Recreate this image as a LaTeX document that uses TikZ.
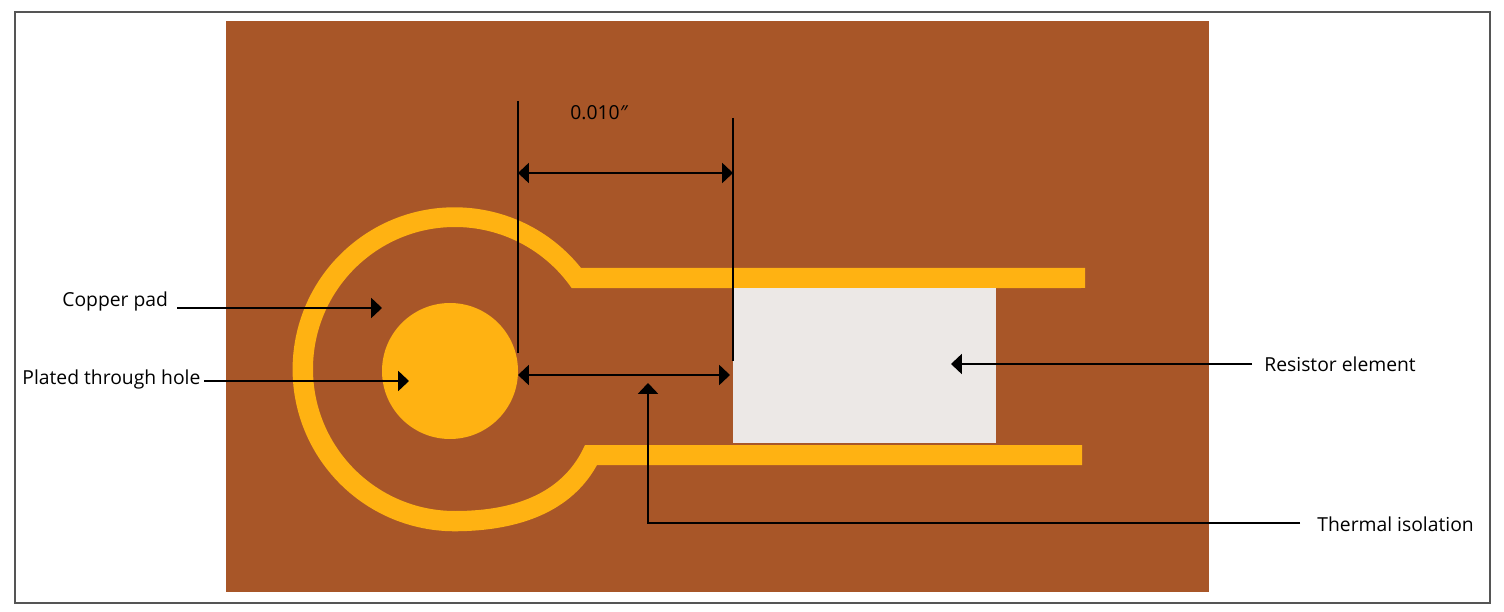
\documentclass[tikz,border=0pt]{standalone}
\usepackage{fontspec}
\setmainfont{Open Sans}
\usetikzlibrary{arrows.meta}
\definecolor{board}{HTML}{A85628}
\definecolor{gold}{HTML}{FFB212}
\definecolor{resist}{HTML}{ECE8E6}
\definecolor{frame}{HTML}{555555}
\tikzset{
  lead/.style={draw=black,line width=.8pt,-{Triangle[length=5.4pt,width=10pt]}},
  dimen/.style={draw=black,line width=.8pt,{Triangle[length=5.4pt,width=10pt]}-{Triangle[length=5.4pt,width=10pt]}},
  extline/.style={draw=black,line width=.8pt},
  lab/.style={inner sep=0pt,anchor=west,font=\fontsize{9.65}{12}\selectfont}
}
\begin{document}
\begin{tikzpicture}[x=.5pt,y=.5pt]
\useasboundingbox (0,0) rectangle (1504,611);
\fill[white] (0,0) rectangle (1504,611);
\draw[frame,line width=.6pt] (15,8) rectangle (1490,599);
\fill[board] (226,19) rectangle (1209,590);
% copper ring and traces
\fill[gold] (1085,343) -- (581,343) arc[start angle=38.7,end angle=270,radius=162]
  .. controls (530,80) and (575,106) .. (597,146) -- (1082,146) -- (1082,166) -- (585,166)
  .. controls (565,121) and (520,100) .. (455,100)
  arc[start angle=270,end angle=34.7,radius=142] -- (1085,323) -- cycle;
\fill[gold] (450,240) circle[radius=68];
\fill[resist] (733,168) rectangle (996,323);
% labels
\node[lab] (pad) at (62,310) {Copper pad};
\node[lab] (hole) at (22,232) {Plated through hole};
\node[lab] (dim) at (570,498) {0.010\textit{″}};
\node[lab] (res) at (1264,247) {Resistor element};
\node[lab] (therm) at (1317,87) {Thermal isolation};
% connector ends
\coordinate (padS) at (177,303);
\coordinate (padE) at (382,303);
\coordinate (holeS) at (204,230);
\coordinate (holeE) at (409,230);
\coordinate (resS) at (1252,247);
\coordinate (resE) at (951,247);
\coordinate (thS) at (1300,88);
\coordinate (thC) at (648,88);
\coordinate (thE) at (648,228);
\coordinate (a1) at (518,510);
\coordinate (a2) at (518,258);
\coordinate (b1) at (733,493);
\coordinate (b2) at (733,250);
\coordinate (u1) at (518,438);
\coordinate (u2) at (733,438);
\coordinate (l1) at (518,236);
\coordinate (l2) at (730,236);
% connectors
\draw[extline] (a1) -- (a2);
\draw[extline] (b1) -- (b2);
\draw[dimen] (u1) -- (u2);
\draw[dimen] (l1) -- (l2);
\draw[lead] (padS) -- (padE);
\draw[lead] (holeS) -- (holeE);
\draw[lead] (resS) -- (resE);
\draw[lead] (thS) -- (thC) -- (thE);
\end{tikzpicture}
\end{document}
